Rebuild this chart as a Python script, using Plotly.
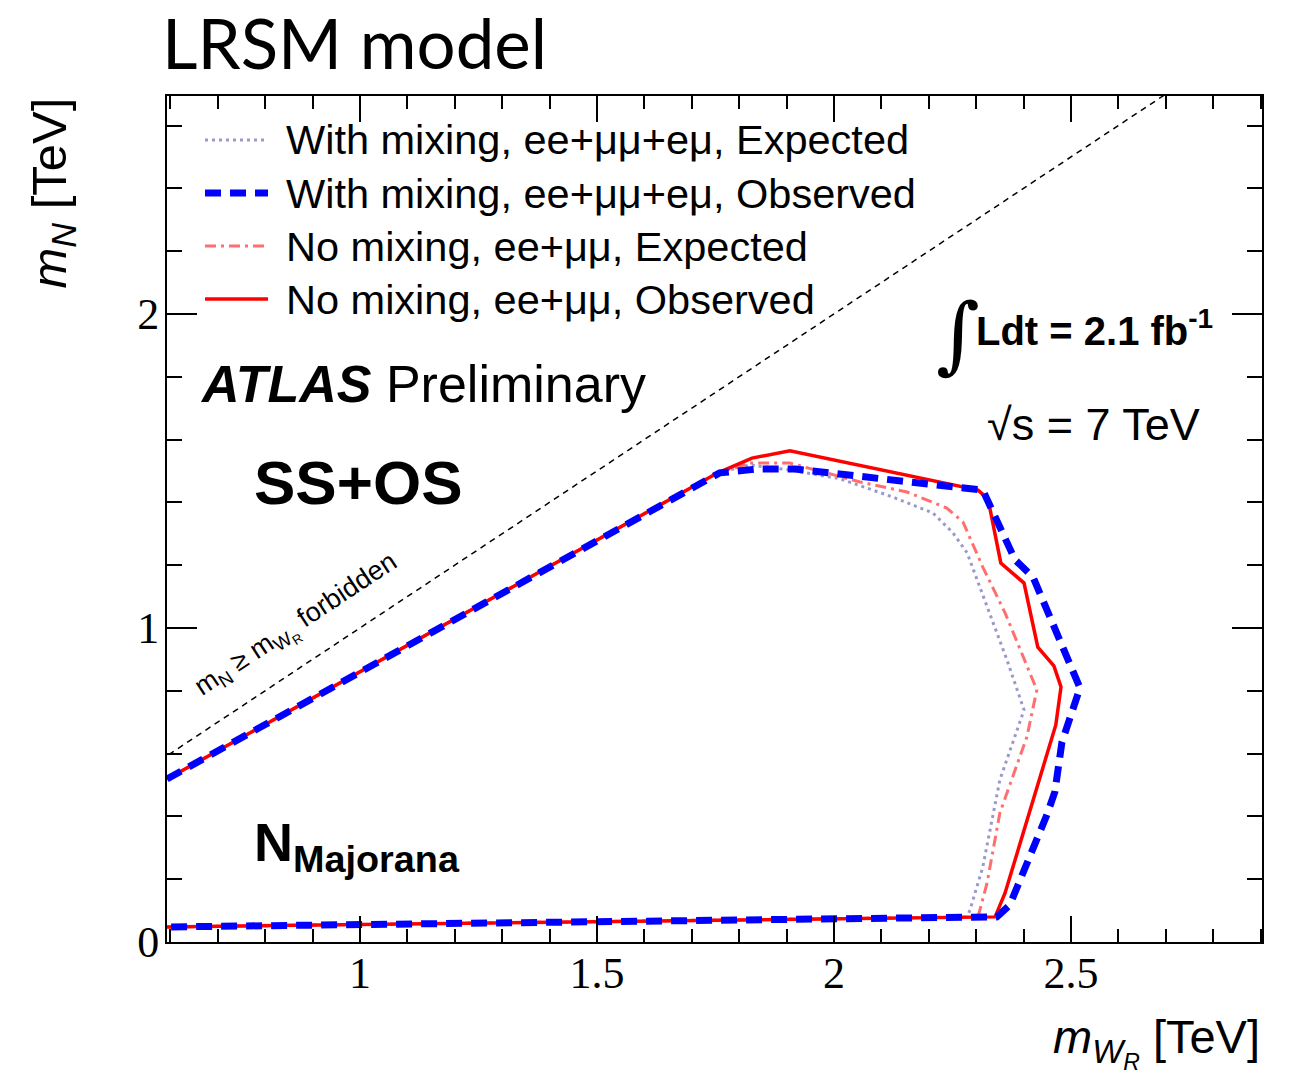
import plotly.graph_objects as go

# ---- exclusion contours in the (m_WR, m_N) plane, TeV ----
obs_nomix_x = [0.593, 1.755, 1.827, 1.907, 2.304, 2.325, 2.352, 2.401, 2.430, 2.464, 2.479, 2.468, 2.361, 2.340, 0.593]
obs_nomix_y = [0.519, 1.494, 1.541, 1.564, 1.439, 1.411, 1.207, 1.143, 0.939, 0.879, 0.812, 0.691, 0.156, 0.080, 0.048]

exp_nomix_x = [0.593, 1.755, 1.823, 1.907, 2.055, 2.154, 2.238, 2.272, 2.314, 2.361, 2.428, 2.407, 2.350, 2.323, 2.304, 0.593]
exp_nomix_y = [0.519, 1.494, 1.525, 1.525, 1.465, 1.433, 1.382, 1.338, 1.194, 1.048, 0.803, 0.653, 0.411, 0.188, 0.080, 0.048]

obs_mix_x = [0.593, 1.759, 1.837, 1.918, 2.314, 2.382, 2.420, 2.483, 2.519, 2.481, 2.466, 2.449, 2.371, 2.344, 0.593]
obs_mix_y = [0.519, 1.494, 1.506, 1.506, 1.439, 1.217, 1.162, 0.939, 0.809, 0.637, 0.478, 0.404, 0.118, 0.080, 0.048]

exp_mix_x = [0.593, 1.755, 1.823, 1.907, 2.013, 2.124, 2.209, 2.251, 2.281, 2.323, 2.365, 2.401, 2.350, 2.314, 2.287, 2.281, 0.593]
exp_mix_y = [0.519, 1.494, 1.519, 1.503, 1.475, 1.417, 1.366, 1.303, 1.239, 1.067, 0.898, 0.739, 0.516, 0.239, 0.102, 0.080, 0.048]

# kinematic boundary m_N = m_WR
diag_x = [0.5, 3.0]
diag_y = [0.5, 3.0]

x_range = [0.593, 2.903]
y_range = [0.0, 2.694]

series_names = [
    "With mixing, ee+μμ+eμ, Expected",
    "With mixing, ee+μμ+eμ, Observed",
    "No mixing, ee+μμ, Expected",
    "No mixing, ee+μμ, Observed",
]

C_EXP_MIX = "#9999CC"
C_OBS_MIX = "#0000FF"
C_EXP_NOMIX = "#FF6F6F"
C_OBS_NOMIX = "#FF0000"

styles = [
    dict(color=C_EXP_MIX, width=3, dash="3px,4px"),
    dict(color=C_OBS_MIX, width=7, dash="16px,9px"),
    dict(color=C_EXP_NOMIX, width=3, dash="11px,5px,3px,5px"),
    dict(color=C_OBS_NOMIX, width=3.5, dash="solid"),
]

fig = go.Figure()

fig.add_trace(go.Scatter(x=diag_x, y=diag_y, mode="lines", showlegend=False,
                         line=dict(color="black", width=1.5, dash="6px,5px")))

curves = [
    (exp_mix_x, exp_mix_y),
    (exp_nomix_x, exp_nomix_y),
    (obs_nomix_x, obs_nomix_y),
    (obs_mix_x, obs_mix_y),
]
order = [0, 2, 3, 1]
for (cx, cy), idx in zip(curves, order):
    fig.add_trace(go.Scatter(x=cx, y=cy, mode="lines", name=series_names[idx],
                             showlegend=False, line=styles[idx]))

# ---- legend drawn as line samples + labels (paper coords) ----
L, R, T, B = 167, 1262, 96, 942
W, H = R - L, B - T


def px(xp):
    return (xp - L) / W


def py(yp):
    return (B - yp) / H


legend_rows = [140, 193, 246, 299]
for name, st, yr in zip(series_names, styles, legend_rows):
    fig.add_shape(type="line", xref="paper", yref="paper",
                  x0=px(205), x1=px(268), y0=py(yr), y1=py(yr),
                  line=dict(color=st["color"], width=st["width"], dash=st["dash"]))
    fig.add_annotation(xref="paper", yref="paper", x=px(284), y=py(yr),
                       xanchor="left", yanchor="middle", showarrow=False,
                       text=name, font=dict(family="Liberation Sans", size=41.5, color="black"))

sans = "Liberation Sans"

fig.add_annotation(xref="paper", yref="paper", x=px(198), y=py(384),
                   xanchor="left", yanchor="middle", showarrow=False,
                   text="<b><i>ATLAS</i></b> Preliminary",
                   font=dict(family=sans, size=52, color="black"))

fig.add_annotation(xref="paper", yref="paper", x=px(252), y=py(482),
                   xanchor="left", yanchor="middle", showarrow=False,
                   text="<b>SS+OS</b>",
                   font=dict(family=sans, size=62, color="black"))

fig.add_annotation(xref="paper", yref="paper", x=px(252), y=py(846),
                   xanchor="left", yanchor="middle", showarrow=False,
                   text="<b>N<sub>Majorana</sub></b>",
                   font=dict(family=sans, size=54, color="black"))

fig.add_annotation(xref="paper", yref="paper", x=px(958), y=py(334),
                   xanchor="center", yanchor="middle", showarrow=False,
                   text="∫",
                   font=dict(family="DejaVu Serif", size=84, color="black"))

fig.add_annotation(xref="paper", yref="paper", x=px(974), y=py(328),
                   xanchor="left", yanchor="middle", showarrow=False,
                   text="<b>Ldt = 2.1 fb<sup>-1</sup></b>",
                   font=dict(family=sans, size=40, color="black"))

fig.add_annotation(xref="paper", yref="paper", x=px(985), y=py(424),
                   xanchor="left", yanchor="middle", showarrow=False,
                   text="√s = 7 TeV",
                   font=dict(family=sans, size=45, color="black"))

fig.add_annotation(xref="paper", yref="paper", x=px(297), y=py(626),
                   xanchor="center", yanchor="middle", showarrow=False,
                   textangle=-33.5,
                   text="m<sub>N</sub> ≥ m<sub>W<sub>R</sub></sub> forbidden",
                   font=dict(family=sans, size=27, color="black"))

# axis titles
fig.add_annotation(xref="paper", yref="paper", x=1.0, y=py(1042),
                   xanchor="right", yanchor="middle", showarrow=False,
                   text="<i>m<sub>W<sub>R</sub></sub></i> [TeV]",
                   font=dict(family=sans, size=47, color="black"))

fig.add_annotation(xref="paper", yref="paper", x=px(52), y=1.0,
                   xanchor="center", yanchor="top", showarrow=False,
                   textangle=-90,
                   text="<i>m<sub>N</sub></i> [TeV]",
                   font=dict(family=sans, size=49, color="black"))

# page title
fig.add_annotation(xref="paper", yref="paper", x=px(160), y=py(42),
                   xanchor="left", yanchor="middle", showarrow=False,
                   text="LRSM model",
                   font=dict(family="Lato", size=69, color="black"))

axis_common = dict(
    showgrid=False, zeroline=False, showline=True, linecolor="black",
    linewidth=2, mirror="allticks", ticks="inside", tickcolor="black",
    tickwidth=2, tickfont=dict(family="Liberation Serif", size=44, color="black"),
)

fig.update_xaxes(range=x_range, tick0=0, dtick=0.5, ticklen=26,
                 minor=dict(ticks="inside", dtick=0.1, tick0=0, ticklen=13,
                            tickcolor="black", tickwidth=2, showgrid=False),
                 ticklabelstandoff=-9, **axis_common)
fig.update_yaxes(range=y_range, tick0=0, dtick=1, ticklen=30,
                 minor=dict(ticks="inside", dtick=0.2, tick0=0, ticklen=15,
                            tickcolor="black", tickwidth=2, showgrid=False),
                 ticklabelstandoff=-3, **axis_common)

fig.update_layout(
    width=1296, height=1082,
    margin=dict(l=L, r=1296 - R, t=T, b=1082 - B, pad=0),
    paper_bgcolor="white", plot_bgcolor="white",
    showlegend=False,
)

fig.write_html("out.html")
